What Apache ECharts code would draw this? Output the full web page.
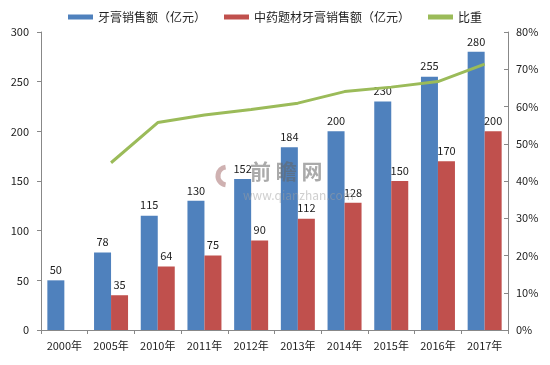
<!DOCTYPE html>
<html><head><meta charset="utf-8">
<script src="https://cdn.jsdelivr.net/npm/echarts@6/dist/echarts.min.js"></script>
<style>html,body{margin:0;padding:0;background:#fff}#c{width:550px;height:365px}</style>
</head><body><div id="c"></div>
<script>
const categories = ['2000年','2005年','2010年','2011年','2012年','2013年','2014年','2015年','2016年','2017年'];
const toothpaste = [50,78,115,130,152,184,200,230,255,280];
const herbal = [null,35,64,75,90,112,128,150,170,200];
const share = [null,44.9,55.7,57.7,59.2,60.9,64.0,65.2,66.7,71.4];
const leftTicks = [0,50,100,150,200,250,300];
const rightTicks = [0,10,20,30,40,50,60,70,80];

const font = 'Microsoft YaHei, "Noto Sans CJK SC", sans-serif';
const chart = echarts.init(document.getElementById('c'));
chart.setOption({
  animation:false,
  textStyle:{fontFamily:font},
  legend:{top:6,left:'center',itemWidth:25,itemHeight:5,itemGap:18,
    textStyle:{fontSize:12,color:'#222',fontFamily:font},
    data:[{name:'牙膏销售额（亿元）',icon:'rect'},{name:'中药题材牙膏销售额（亿元）',icon:'rect'},{name:'比重',icon:'rect'}]},
  grid:{left:41,right:42,top:32,bottom:35},
  xAxis:{type:'category',data:categories,
    axisLine:{lineStyle:{color:'#888'}},
    axisTick:{show:true,alignWithLabel:false,length:4,lineStyle:{color:'#888'}},
    axisLabel:{fontSize:11,color:'#222',margin:10,interval:0}},
  yAxis:[
    {type:'value',min:leftTicks[0],max:leftTicks[leftTicks.length-1],interval:50,
     axisLine:{show:true,lineStyle:{color:'#888'}},
     axisTick:{show:true,length:4,lineStyle:{color:'#888'}},
     splitLine:{show:false},
     axisLabel:{fontSize:11,color:'#222',margin:12}},
    {type:'value',min:rightTicks[0],max:rightTicks[rightTicks.length-1],interval:10,position:'right',
     axisLine:{show:true,lineStyle:{color:'#888'}},
     axisTick:{show:true,inside:true,length:4,lineStyle:{color:'#888'}},
     splitLine:{show:false},
     axisLabel:{fontSize:11,color:'#222',margin:8,formatter:'{value}%'}}
  ],
  graphic:[
    {type:'arc',z:100,shape:{cx:227,cy:176,r:9,startAngle:Math.PI*0.55,endAngle:Math.PI*1.45},
     style:{stroke:'rgba(160,100,100,0.5)',lineWidth:5,fill:null}},
    {type:'text',z:100,left:250,top:161,style:{text:'前 瞻 网',fontSize:21,fontWeight:'bold',fill:'rgba(100,100,100,0.55)',fontFamily:font}},
    {type:'text',z:100,left:243,top:189,style:{text:'www.qianzhan.com',fontSize:12,fill:'rgba(160,160,160,0.5)',fontFamily:font}}
  ],
  series:[
    {name:'牙膏销售额（亿元）',type:'bar',data:toothpaste,barWidth:17,barGap:'0%',
     itemStyle:{color:'#4F81BD'},
     label:{show:true,position:'top',fontSize:11,color:'#222',distance:5}},
    {name:'中药题材牙膏销售额（亿元）',type:'bar',data:herbal,barWidth:17,
     itemStyle:{color:'#C0504D'},
     label:{show:true,position:'top',fontSize:11,color:'#222',distance:5}},
    {name:'比重',type:'line',yAxisIndex:1,data:share,symbol:'none',connectNulls:false,
     lineStyle:{color:'#9BBB59',width:3},itemStyle:{color:'#9BBB59'}}
  ]
});
</script></body></html>
